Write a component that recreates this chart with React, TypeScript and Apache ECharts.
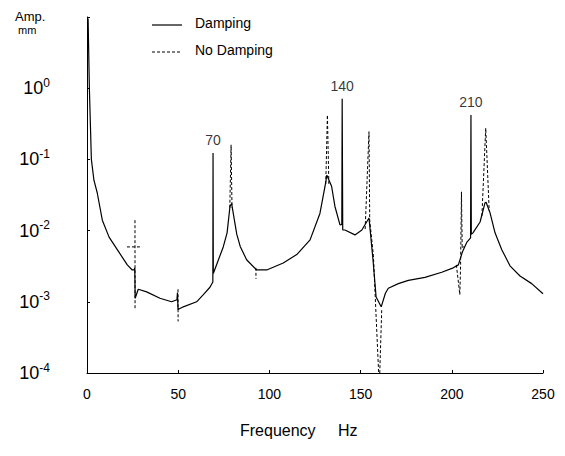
import React, { useEffect, useRef } from "react";
import * as echarts from "echarts";

// Frequency (Hz) and amplitude (mm)
const freqDamping = [
  0.6, 1.3, 2.4, 3.8, 5.6, 8.4, 12.1, 16.6, 22.1, 24.8, 25.8, 26.2, 26.4, 28.1, 32.7, 40, 46.4, 49.3, 49.6, 49.9,
  52.8, 60.1, 63.8, 67.4, 69.0, 69.1, 69.25, 74.7, 76.8, 78.4, 79.3, 82.1, 84, 87.5, 93, 98.5, 107.6, 115, 122.3,
  127.7, 130.5, 131.5, 134.1, 135.9, 138.7, 139.7, 139.9, 140.2, 141.4, 146.9, 150.7, 154.6, 156.8, 158.5, 161.3,
  163.6, 165.2, 170.7, 176.2, 185.3, 194.5, 200.8, 203.6, 205.8, 208.3, 210.3, 210.5, 210.7, 211.6, 215.5, 218.2,
  218.8, 220.9, 223.7, 227.4, 231.9, 237.4, 243.8, 250,
];
const ampDamping = [
  9.5, 1.0, 0.1, 0.051, 0.034, 0.014, 0.0081, 0.0054, 0.0033, 0.0028, 0.0028, 0.003, 0.00112, 0.0015, 0.00138,
  0.00112, 0.001, 0.00107, 0.00135, 0.00078, 0.00085, 0.001, 0.00126, 0.0016, 0.0019, 0.123, 0.0025, 0.0059,
  0.0093, 0.022, 0.024, 0.0089, 0.006, 0.0039, 0.0028, 0.0028, 0.0035, 0.0046, 0.0074, 0.0174, 0.042, 0.06,
  0.042, 0.022, 0.012, 0.0122, 0.71, 0.0102, 0.0102, 0.0087, 0.0102, 0.015, 0.0039, 0.00117, 0.00085, 0.00132,
  0.00155, 0.0018, 0.002, 0.0022, 0.0026, 0.003, 0.0033, 0.005, 0.0069, 0.0079, 0.42, 0.0089, 0.0093, 0.0132,
  0.0245, 0.025, 0.018, 0.0093, 0.0054, 0.0032, 0.0023, 0.0018, 0.0013,
];

// No damping: only the stretches where it departs from the damped curve (null = gap)
const freqNoDamping = [
  26.3, 26.35, null, 21.9, 30.2, null, 49.9, 49.95, null, 78.3, 79.0, 79.5, null, 92.6, 92.65, null,
  130.9, 131.8, 132.6, null, 152.5, 154.6, 155.0, 157.0, 159.9, 160.5, 161.6, null,
  202.5, 204.4, 204.8, 205.3, 205.7, 206.5, null, 216.5, 218.6, 220.5,
];
const ampNoDamping = [
  0.014, 0.00076, null, 0.0059, 0.0059, null, 0.0015, 0.00053, null, 0.021, 0.16, 0.021, null, 0.003, 0.0021, null,
  0.045, 0.42, 0.045, null, 0.0105, 0.245, 0.014, 0.0045, 0.0001, 0.0001, 0.0008, null,
  0.0033, 0.00126, 0.0031, 0.035, 0.0056, 0.006, null, 0.016, 0.275, 0.019,
];

const peakFreqs = [69.1, 139.9, 210.5];
const peakAmps = [0.123, 0.71, 0.42];
const peakLabels = ["70", "140", "210"];

const xTicks = [0, 50, 100, 150, 200, 250];

const FONT = "'Liberation Sans', Arial, sans-serif";
const INK = "#000";

export default function App() {
  const ref = useRef<HTMLDivElement>(null);
  useEffect(() => {
    if (!ref.current) return;
    const chart = echarts.init(ref.current, null, { renderer: "svg" });
    const solid = freqDamping.map((f, i) => [f, ampDamping[i]]);
    const dashed = freqNoDamping.map((f, i) => (f === null ? "-" : [f, ampNoDamping[i]]));
    const peaks = peakFreqs.map((f, i) => [f, peakAmps[i], peakLabels[i]]);
    chart.setOption({
      animation: false,
      backgroundColor: "#fff",
      grid: { left: 87, right: 22, top: 17, bottom: 83, outerBoundsMode: "none" },
      xAxis: {
        type: "value",
        min: xTicks[0],
        max: xTicks[xTicks.length - 1],
        interval: 50,
        axisLine: { lineStyle: { color: INK, width: 1 } },
        axisTick: { inside: true, length: 3, lineStyle: { color: INK } },
        splitLine: { show: false },
        axisLabel: { color: INK, fontFamily: FONT, fontSize: 14, margin: 14 },
      },
      yAxis: {
        type: "log",
        logBase: 10,
        min: 1e-4,
        max: 10,
        axisLine: { lineStyle: { color: INK, width: 1 } },
        axisTick: { inside: true, length: 3, lineStyle: { color: INK } },
        splitLine: { show: false },
        minorTick: { show: false },
        axisLabel: {
          margin: 37,
          formatter: (v: number) => {
            const e = Math.round(Math.log10(v));
            if (e >= 1) return "";
            return `{b|10}{s|${e}}`;
          },
          rich: {
            b: { fontSize: 18, fontFamily: FONT, color: INK },
            s: { fontSize: 12, fontFamily: FONT, color: INK, padding: [0, 0, 11, 0] },
          },
        },
      },
      series: [
        {
          name: "Damping",
          type: "line",
          data: solid,
          showSymbol: false,
          symbol: "none",
          lineStyle: { color: INK, width: 1.2 },
        },
        {
          name: "No Damping",
          type: "line",
          data: dashed,
          showSymbol: false,
          symbol: "none",
          connectNulls: false,
          lineStyle: { color: INK, width: 1, type: [3, 2] },
        },
        {
          type: "scatter",
          data: peaks,
          symbolSize: 0,
          label: {
            show: true,
            position: "top",
            distance: 6,
            formatter: (p: any) => p.data[2],
            color: INK,
            fontFamily: FONT,
            fontSize: 14,
          },
        },
      ],
      graphic: [
        { type: "text", left: 15, top: 10, style: { text: "Amp.", fontSize: 13, fontFamily: FONT, fill: INK } },
        { type: "text", left: 18, top: 24, style: { text: "mm", fontSize: 11, fontFamily: FONT, fill: INK } },
        { type: "line", shape: { x1: 152, y1: 25, x2: 182, y2: 25 }, style: { stroke: INK, lineWidth: 1.2 } },
        { type: "text", left: 195, top: 16, style: { text: "Damping", fontSize: 14, fontFamily: FONT, fill: INK } },
        {
          type: "line",
          shape: { x1: 152, y1: 52, x2: 182, y2: 52 },
          style: { stroke: INK, lineWidth: 1, lineDash: [3, 2] },
        },
        { type: "text", left: 195, top: 43, style: { text: "No Damping", fontSize: 14, fontFamily: FONT, fill: INK } },
        { type: "text", left: 240, top: 422, style: { text: "Frequency", fontSize: 16, fontFamily: FONT, fill: INK } },
        { type: "text", left: 338, top: 422, style: { text: "Hz", fontSize: 16, fontFamily: FONT, fill: INK } },
      ],
    });
    return () => chart.dispose();
  }, []);
  return <div ref={ref} style={{ position: "fixed", left: 0, top: 0, width: 565, height: 456 }} />;
}
